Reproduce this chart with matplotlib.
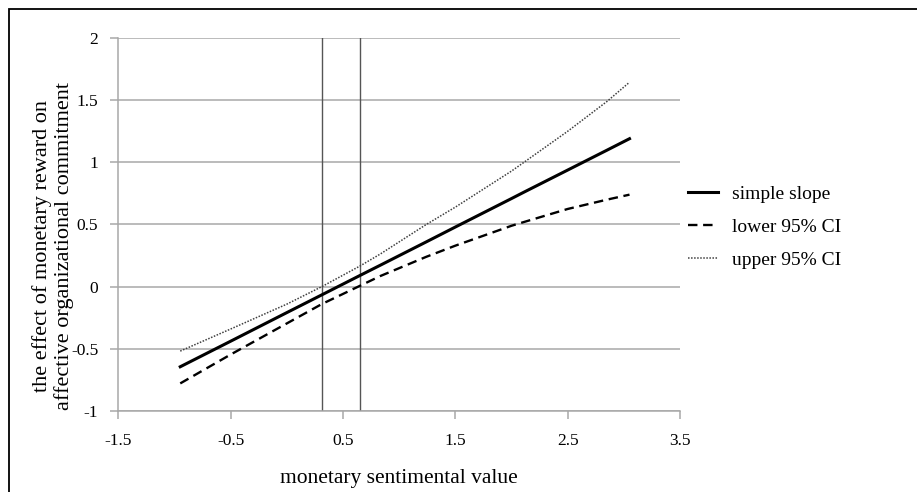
import numpy as np
import matplotlib.pyplot as plt
from matplotlib.patches import Rectangle

# values
x_vals = [-0.95, -0.5, 0.0, 0.31, 0.65, 0.83, 1.24, 1.5, 2.0, 2.11, 2.5, 2.85, 3.05]
simple_slope = [-0.644, -0.438, -0.208, -0.066, 0.090, 0.172, 0.360, 0.480, 0.709, 0.760, 0.938, 1.098, 1.190]
lower_ci = [-0.778, -0.545, -0.295, -0.140, 0.007, 0.085, 0.240, 0.330, 0.490, 0.520, 0.625, 0.700, 0.740]
upper_ci = [-0.518, -0.340, -0.140, 0.000, 0.166, 0.262, 0.500, 0.640, 0.930, 1.000, 1.250, 1.490, 1.644]

jn_points = [0.31, 0.65]   # Johnson-Neyman bounds

xticks = [-1.5, -0.5, 0.5, 1.5, 2.5, 3.5]
yticks = [-1, -0.5, 0, 0.5, 1, 1.5, 2]

plt.rcParams['font.family'] = ['Liberation Serif', 'DejaVu Serif']

fig = plt.figure(figsize=(9.17, 4.92), dpi=100)
ax = fig.add_axes([0.1292, 0.1646, 0.6124, 0.7582])

for y in yticks:
    ax.axhline(y, color='#a8a8a8', lw=1.1, zorder=0)
for v in jn_points:
    ax.axvline(v, color='#555555', lw=1.0, zorder=1)

ax.plot(x_vals, simple_slope, color='black', lw=2.2, label='simple slope', zorder=3)
ax.plot(x_vals, lower_ci, color='black', lw=1.7, ls=(0, (4, 2.4)), label='lower 95% CI', zorder=3)
ax.plot(x_vals, upper_ci, color='#404040', lw=1.1, ls=(0, (1, 1)), label='upper 95% CI', zorder=3)

ax.set_xlim(-1.5, 3.5)
ax.set_ylim(-1, 2)
ax.set_xticks(xticks)
ax.set_xticklabels(['-1.5', '-0.5', '0.5', '1.5', '2.5', '3.5'])
ax.set_yticks(yticks)
ax.set_yticklabels(['-1', '-0.5', '0', '0.5', '1', '1.5', '2'])
ax.tick_params(axis='both', labelsize=12.5, color='#a8a8a8', length=5.5, width=1.1)
ax.tick_params(axis='y', pad=9)
ax.tick_params(axis='x', pad=10)

for s in ['top', 'right']:
    ax.spines[s].set_visible(False)
for s in ['left', 'bottom']:
    ax.spines[s].set_color('#a8a8a8')
    ax.spines[s].set_linewidth(1.1)

ax.legend(loc='upper left', bbox_to_anchor=(1.014, 0.605), frameon=False,
          fontsize=14, handlelength=1.55, handletextpad=0.72,
          labelspacing=0.8, borderpad=0, borderaxespad=0)

fig.text(53 / 917, 1 - 246 / 492,
         'the effect of monetary reward on\naffective organizational commitment',
         rotation=90, ha='center', va='center', multialignment='center',
         fontsize=16, linespacing=1.1)
fig.text(399 / 917, 1 - 478 / 492, 'monetary sentimental value',
         ha='center', va='center', fontsize=15.5)

# outer frame
fig.patches.append(Rectangle((9 / 917, -0.1), 1.2, 1 - 9 / 492 + 0.1,
                             transform=fig.transFigure, fill=False,
                             edgecolor='black', lw=1.3))

fig.savefig('out.png', dpi=100)
